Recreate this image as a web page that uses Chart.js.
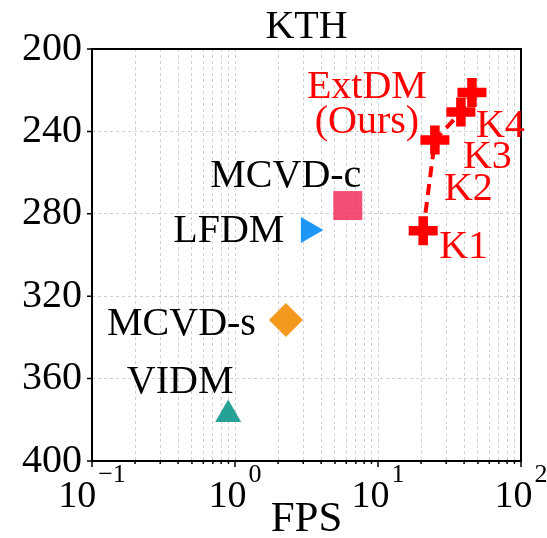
<!DOCTYPE html>
<html lang="en">
<head>
    <meta charset="UTF-8">
    <title>KTH</title>
    <style>
        body{
            margin: 0px;
            padding: 0px;
            background-color: white;
        }
    </style>
</head>
<body>
    <canvas id="myChart" width="547" height="538"></canvas>

    <script src="https://cdn.jsdelivr.net/npm/chart.js@4.4.0/dist/chart.umd.min.js"></script>
    <script>
        // ExtDM (ours) points, K1..K4
        const extdmLabels = ['K1', 'K2', 'K3', 'K4'];
        const extdmFps = [20.7, 25.0, 38.0, 45.4];
        const extdmFvd = [288.2, 244.2, 230.6, 221.1];

        // other methods
        const baselineNames = ['MCVD-c', 'LFDM', 'MCVD-s', 'VIDM'];
        const baselineFps = [6.15, 3.26, 2.27, 0.896];
        const baselineFvd = [276.0, 287.9, 331.6, 377.4];

        // axes
        const xMajorTicks = [0.1, 1, 10, 100];
        const xTickExponents = ['\u22121', '0', '1', '2'];
        const yTicks = [200, 240, 280, 320, 360, 400];

        const serif = "'Liberation Serif', 'Times New Roman', serif";

        // 1..9 x 10^k for the log grid
        let xGridTicks = [];
        for (let i = 0; i < xMajorTicks.length; i++) {
            xGridTicks.push(xMajorTicks[i]);
            if (i < xMajorTicks.length - 1) {
                for (let m = 2; m <= 9; m++) xGridTicks.push(+(xMajorTicks[i] * m).toPrecision(3));
            }
        }

        const baseStyles = [
            {pointStyle: 'rect', radius: 20.5, color: 'rgba(240, 40, 85, 0.82)', rotation: 0},
            {pointStyle: 'triangle', radius: 15, color: '#1e96f5', rotation: 90},
            {pointStyle: 'rectRot', radius: 17, color: '#f39a1e', rotation: 0},
            {pointStyle: 'triangle', radius: 15, color: '#26a196', rotation: 0}
        ];

        // label placement, pixel offsets from the marker
        const extdmOffsets = [[16, 27], [9, 60], [2, 56], [4, 44.5]];
        const baseLabelPos = [
            {dx: -62, dy: -18.5, align: 'center'},
            {dx: -24, dy: 12, align: 'right'},
            {dx: -30, dy: 15, align: 'right'},
            {dx: -48, dy: -21.5, align: 'center'}
        ];

        let datasets = [];
        for (let i = 0; i < baselineNames.length; i++) {
            let s = baseStyles[i];
            datasets.push({
                label: baselineNames[i],
                data: [{x: baselineFps[i], y: baselineFvd[i]}],
                pointStyle: s.pointStyle,
                pointRadius: s.radius,
                pointRotation: s.rotation,
                pointBackgroundColor: s.color,
                pointBorderWidth: 0,
                pointHoverRadius: s.radius
            });
        }
        datasets.push({
            label: 'ExtDM (Ours)',
            data: extdmFps.map((v, i) => ({x: v, y: extdmFvd[i]})),
            showLine: true,
            borderColor: '#ff0000',
            borderWidth: 4,
            borderDash: [11, 7],
            tension: 0,
            pointStyle: 'cross',
            pointRadius: 14.5,
            pointHoverRadius: 14.5,
            pointBorderWidth: 9.5,
            pointBorderColor: '#ff0000'
        });

        const overlay = {
            id: 'overlay',
            afterDraw(chart) {
                const ctx = chart.ctx;
                const a = chart.chartArea;
                const xs = chart.scales.x, ys = chart.scales.y;
                ctx.save();

                // frame
                ctx.strokeStyle = '#000';
                ctx.lineWidth = 2;
                ctx.strokeRect(a.left, a.top, a.right - a.left, a.bottom - a.top);

                // tick marks
                ctx.lineWidth = 1.5;
                ctx.beginPath();
                yTicks.forEach(v => {
                    let p = ys.getPixelForValue(v);
                    ctx.moveTo(a.left - 5, p);
                    ctx.lineTo(a.left, p);
                });
                xGridTicks.forEach(v => {
                    let p = xs.getPixelForValue(v);
                    let len = xMajorTicks.includes(v) ? 6 : 3;
                    ctx.moveTo(p, a.bottom);
                    ctx.lineTo(p, a.bottom + len);
                });
                ctx.stroke();

                // x tick labels 10^k
                ctx.fillStyle = '#000';
                ctx.textBaseline = 'alphabetic';
                ctx.textAlign = 'left';
                xMajorTicks.forEach((v, i) => {
                    let p = xs.getPixelForValue(v);
                    ctx.font = '38px ' + serif;
                    let w1 = ctx.measureText('10').width;
                    ctx.font = '26px ' + serif;
                    let w2 = ctx.measureText(xTickExponents[i]).width;
                    let left = p - (w1 + w2 + 2) / 2;
                    ctx.font = '38px ' + serif;
                    ctx.fillText('10', left, 507);
                    ctx.font = '26px ' + serif;
                    ctx.fillText(xTickExponents[i], left + w1 + 2, 482);
                });

                // title and axis title
                let cx = (a.left + a.right) / 2;
                ctx.textAlign = 'center';
                ctx.font = '40px ' + serif;
                ctx.fillText('KTH', cx, 38);
                ctx.font = '43px ' + serif;
                ctx.fillText('FPS', cx, 531);

                // method labels
                ctx.font = '40px ' + serif;
                for (let i = 0; i < baselineNames.length; i++) {
                    let px = xs.getPixelForValue(baselineFps[i]);
                    let py = ys.getPixelForValue(baselineFvd[i]);
                    let pos = baseLabelPos[i];
                    ctx.textAlign = pos.align;
                    ctx.fillText(baselineNames[i], px + pos.dx, py + pos.dy);
                }

                ctx.fillStyle = '#ff0000';
                ctx.textAlign = 'left';
                for (let i = 0; i < extdmLabels.length; i++) {
                    let px = xs.getPixelForValue(extdmFps[i]);
                    let py = ys.getPixelForValue(extdmFvd[i]);
                    ctx.fillText(extdmLabels[i], px + extdmOffsets[i][0], py + extdmOffsets[i][1]);
                }
                let kx = xs.getPixelForValue(extdmFps[1]);
                let ky = ys.getPixelForValue(extdmFvd[1]);
                ctx.textAlign = 'center';
                ctx.fillText('ExtDM', kx - 68, ky - 42);
                ctx.fillText('(Ours)', kx - 68, ky - 7);

                ctx.restore();
            }
        };

        const ctx = document.getElementById('myChart').getContext('2d');
        const myChart = new Chart(ctx, {
            type: 'scatter',
            data: {datasets: datasets},
            options: {
                responsive: false,
                animation: false,
                devicePixelRatio: 1,
                layout: {padding: {top: 49, right: 26, left: 0, bottom: 0}},
                plugins: {
                    legend: {display: false},
                    tooltip: {enabled: false},
                    title: {display: false}
                },
                scales: {
                    x: {
                        type: 'logarithmic',
                        min: 0.1,
                        max: 100,
                        afterBuildTicks: (scale) => {
                            scale.ticks = xGridTicks.map(v => ({value: v}));
                        },
                        afterFit: (scale) => { scale.height = 77; },
                        ticks: {display: false},
                        grid: {color: '#d0d0d0', lineWidth: 1, drawTicks: false},
                        border: {display: false, dash: [3, 3]}
                    },
                    y: {
                        type: 'linear',
                        reverse: true,
                        min: 200,
                        max: 400,
                        afterBuildTicks: (scale) => {
                            scale.ticks = yTicks.map(v => ({value: v}));
                        },
                        afterFit: (scale) => { scale.width = 92; },
                        ticks: {
                            color: '#000',
                            padding: 10,
                            font: {family: serif, size: 40}
                        },
                        grid: {color: '#d0d0d0', lineWidth: 1, drawTicks: false},
                        border: {display: false, dash: [3, 3]}
                    }
                }
            },
            plugins: [overlay]
        });
    </script>
</body>
</html>
